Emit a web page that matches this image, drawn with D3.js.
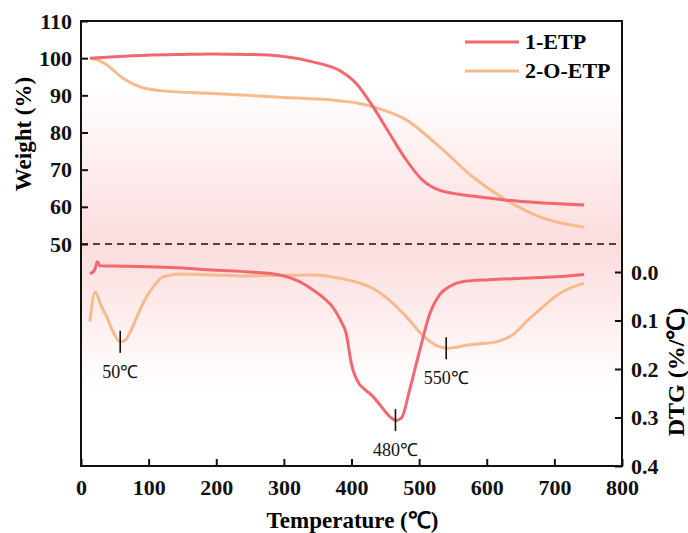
<!DOCTYPE html>
<html>
<head>
<meta charset="utf-8">
<script src="https://cdn.jsdelivr.net/npm/d3@7"></script>
<style>
  body { margin: 0; background: #fff; }
</style>
</head>
<body>
<div id="chart"></div>
<script>
let w = 688;
let h = 533;
let plotL = 81, plotR = 622, plotT = 21, plotB = 466;
let serif = "'Liberation Serif', 'Times New Roman', serif";

// weight curves (left axis)
let etpT  = [13, 50, 97, 150, 195, 250, 294, 343, 383, 407, 432, 456, 481, 505, 530, 579, 629, 678, 744];
let etpW  = [100, 100.4, 100.8, 101.0, 101.1, 101.0, 100.6, 99.0, 96.6, 93.2, 86.9, 79.8, 72.6, 67.2, 64.5, 62.9, 61.8, 61.1, 60.5];
let oetpT = [13, 25, 38, 62, 87, 121, 195, 294, 383, 412, 432, 481, 530, 579, 629, 678, 744];
let oetpW = [100, 99.5, 98.2, 94.6, 92.3, 91.2, 90.5, 89.5, 88.5, 87.8, 86.9, 83.4, 76.2, 68.1, 61.8, 57.3, 54.5];

// DTG curves (right axis)
let etpDT  = [13, 18, 22, 24, 28, 60, 97, 150, 195, 250, 294, 320, 343, 360, 372, 384, 392, 400, 412, 418, 432, 446, 458, 466, 474, 486, 501, 516, 530, 545, 564, 604, 653, 703, 744];
let etpD   = [0.003, 0.0, -0.012, -0.021, -0.013, -0.012, -0.011, -0.008, -0.004, 0.0, 0.006, 0.018, 0.037, 0.055, 0.072, 0.1, 0.126, 0.19, 0.232, 0.24, 0.257, 0.281, 0.3, 0.306, 0.301, 0.243, 0.161, 0.085, 0.047, 0.030, 0.02, 0.016, 0.013, 0.01, 0.005];
let oetpDT = [13, 21, 30, 38, 48, 58, 66, 72, 85, 97, 110, 121, 146, 195, 245, 294, 343, 383, 412, 432, 456, 481, 505, 530, 540, 555, 570, 590, 614, 638, 660, 678, 708, 744];
let oetpD  = [0.102, 0.041, 0.07, 0.092, 0.125, 0.144, 0.14, 0.126, 0.085, 0.051, 0.025, 0.01, 0.004, 0.006, 0.008, 0.007, 0.006, 0.013, 0.023, 0.034, 0.058, 0.092, 0.13, 0.154, 0.157, 0.155, 0.151, 0.148, 0.144, 0.13, 0.1, 0.078, 0.044, 0.023];

let seriesNames = ["1-ETP", "2-O-ETP"];
let colors = ["#f4676f", "#f6bb8c"];

let xTicks = [0, 100, 200, 300, 400, 500, 600, 700, 800];
let wTicks = [50, 60, 70, 80, 90, 100, 110];
let dTicks = [0.0, 0.1, 0.2, 0.3, 0.4];

// peak labels: temperature of the mark, label text, which DTG curve
let peakT = [58, 465, 540];
let peakLabel = ["50℃", "480℃", "550℃"];
let peakSeries = [1, 0, 1];

let viz = d3.select("#chart").append("svg")
  .attr("width", w)
  .attr("height", h);

let xScale = d3.scaleLinear().domain([0, 800]).range([plotL, plotR]);
let wScale = d3.scaleLinear().domain([50, 110]).range([244, plotT]);
let dScale = d3.scaleLinear().domain([0, 0.4]).range([272, plotB]);

// pink background band
let grad = viz.append("defs").append("linearGradient")
  .attr("id", "bg")
  .attr("gradientUnits", "userSpaceOnUse")
  .attr("x1", 0).attr("x2", 0).attr("y1", plotT).attr("y2", plotB);
grad.append("stop").attr("offset", 0).attr("stop-color", "#ffffff");
grad.append("stop").attr("offset", 0.14).attr("stop-color", "#ffffff");
grad.append("stop").attr("offset", 0.5).attr("stop-color", "#fcdcdd");
grad.append("stop").attr("offset", 0.83).attr("stop-color", "#ffffff");
grad.append("stop").attr("offset", 1).attr("stop-color", "#ffffff");

viz.append("rect")
  .attr("x", plotL).attr("y", plotT)
  .attr("width", plotR - plotL).attr("height", plotB - plotT)
  .attr("fill", "url(#bg)");

// dashed divider at 50 %
viz.append("line")
  .attr("x1", plotL).attr("x2", plotR)
  .attr("y1", wScale(50)).attr("y2", wScale(50))
  .attr("stroke", "#111").attr("stroke-width", 1.5)
  .attr("stroke-dasharray", "7,5");

let wLine = d3.line().x(d => xScale(d[0])).y(d => wScale(d[1])).curve(d3.curveMonotoneX);
let dLine = d3.line().x(d => xScale(d[0])).y(d => dScale(d[1])).curve(d3.curveMonotoneX);

let wData = [d3.zip(etpT, etpW), d3.zip(oetpT, oetpW)];
let dData = [d3.zip(etpDT, etpD), d3.zip(oetpDT, oetpD)];

// orange first so red sits on top
[1, 0].forEach(function(i){
  viz.append("path").datum(wData[i])
    .attr("d", wLine)
    .attr("fill", "none").attr("stroke", colors[i]).attr("stroke-width", 3);
  viz.append("path").datum(dData[i])
    .attr("d", dLine)
    .attr("fill", "none").attr("stroke", colors[i]).attr("stroke-width", 3);
});

// peak markers
peakT.forEach(function(t, i){
  let pts = dData[peakSeries[i]];
  let tt = pts.map(p => p[0]);
  let vv = pts.map(p => p[1]);
  let v = d3.scaleLinear().domain(tt).range(vv)(t);
  let px = xScale(t), py = dScale(v);
  viz.append("line")
    .attr("x1", px).attr("x2", px)
    .attr("y1", py - 11).attr("y2", py + 11)
    .attr("stroke", "#111").attr("stroke-width", 1.6);
  viz.append("text")
    .attr("x", px).attr("y", py + 36)
    .attr("text-anchor", "middle")
    .style("font-family", serif)
    .attr("font-size", 18)
    .attr("fill", "#111")
    .text(peakLabel[i]);
});

// axes
let tickSize = 22;

let xAxis = d3.axisBottom(xScale).tickValues(xTicks).tickSizeInner(-7).tickSizeOuter(0).tickPadding(13);
let gx = viz.append("g").attr("transform", "translate(0," + plotB + ")").call(xAxis);

let wAxis = d3.axisLeft(wScale).tickValues(wTicks).tickSizeInner(-7).tickSizeOuter(0).tickPadding(9);
let gw = viz.append("g").attr("transform", "translate(" + plotL + ",0)").call(wAxis);

let dAxis = d3.axisRight(dScale).tickValues(dTicks).tickFormat(d3.format(".1f")).tickSizeInner(-7).tickSizeOuter(0).tickPadding(9);
let gd = viz.append("g").attr("transform", "translate(" + plotR + ",0)").call(dAxis);

[gx, gw, gd].forEach(function(g){
  g.select(".domain").remove();
  g.selectAll(".tick line").attr("stroke", "#111").attr("stroke-width", 2);
  g.selectAll(".tick text")
    .style("font-family", serif)
    .attr("font-weight", "bold")
    .attr("font-size", tickSize)
    .attr("fill", "#111");
});

// frame
viz.append("rect")
  .attr("x", plotL).attr("y", plotT)
  .attr("width", plotR - plotL).attr("height", plotB - plotT)
  .attr("fill", "none").attr("stroke", "#111").attr("stroke-width", 2);

// axis titles
viz.append("text")
  .attr("transform", "translate(31,134) rotate(-90)")
  .attr("text-anchor", "middle")
  .style("font-family", serif)
  .attr("font-size", 23).attr("font-weight", "bold")
  .text("Weight (%)");

viz.append("text")
  .attr("transform", "translate(684,372) rotate(-90)")
  .attr("text-anchor", "middle")
  .style("font-family", serif)
  .attr("font-size", 24).attr("font-weight", "bold")
  .text("DTG (%/℃)");

viz.append("text")
  .attr("x", (plotL + plotR) / 2 + 1).attr("y", 528)
  .attr("text-anchor", "middle")
  .style("font-family", serif)
  .attr("font-size", 23).attr("font-weight", "bold")
  .text("Temperature (℃)");

// legend
let legend = viz.append("g");
seriesNames.forEach(function(name, i){
  let y = 42 + i * 29;
  legend.append("line")
    .attr("x1", 465).attr("x2", 519)
    .attr("y1", y).attr("y2", y)
    .attr("stroke", colors[i]).attr("stroke-width", 3);
  legend.append("text")
    .attr("x", 525).attr("y", y + 7)
    .style("font-family", serif)
    .attr("font-size", 22).attr("font-weight", "bold")
    .text(name);
});
</script>
</body>
</html>
